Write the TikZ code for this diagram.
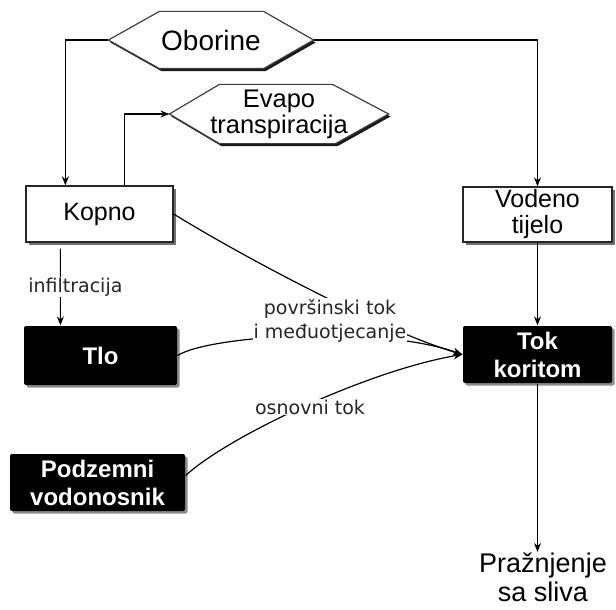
\documentclass[tikz,border=0pt]{standalone}
\usepackage{fontspec}
\setmainfont{Liberation Sans}
\newfontfamily\labfont{DejaVu Sans}
\usetikzlibrary{shadows,arrows.meta,backgrounds}
\begin{document}
\begin{tikzpicture}[x=1pt,y=-1pt,
  line width=1.2pt,
  arr/.style={-{Stealth[length=9pt,width=7pt]}},
  whitebox/.style={draw=black!85, line width=1.3pt, fill=white, inner sep=0pt, align=center,
    drop shadow={shadow xshift=2.5pt,shadow yshift=-2.5pt,fill=black!55,opacity=1},
    font={\fontsize{25}{26}\selectfont}},
  blackbox/.style={fill=black, rounded corners=2pt, text=white, inner sep=0pt, align=center,
    drop shadow={shadow xshift=2.5pt,shadow yshift=-2.5pt,fill=black!45,opacity=1},
    font={\fontsize{24}{28}\selectfont\bfseries}},
  hexbox/.style={inner sep=0pt, align=center},
  hexline/.style={draw=black!75, line width=1.2pt, fill=white,
    drop shadow={shadow xshift=2pt,shadow yshift=-2.5pt,fill=black,opacity=0.9}},
  lab/.style={font={\labfont\fontsize{19}{24}\selectfont}, fill=white, inner sep=1pt, align=center, text=black!85}
]
\useasboundingbox (0,0) rectangle (616,610);

% hexagons
\node[hexbox, minimum width=204pt, minimum height=56pt, font={\fontsize{28}{30}\selectfont}] (ob) at (211,40) {Oborine};
\node[hexbox, minimum width=218pt, minimum height=58pt, font={\fontsize{25.5}{26}\selectfont}] (ev) at (279,114) {Evapo\\transpiracija};
\begin{scope}[on background layer]
\path[hexline] (ob.west) -- ([xshift=51pt]ob.north west) -- ([xshift=-50pt]ob.north east) -- (ob.east)
  -- ([xshift=-50pt]ob.south east) -- ([xshift=51pt]ob.south west) -- cycle;
\path[hexline] (ev.west) -- ([xshift=50pt]ev.north west) -- ([xshift=-56pt]ev.north east) -- (ev.east)
  -- ([xshift=-53pt]ev.south east) -- ([xshift=50pt]ev.south west) -- cycle;
\end{scope}

% boxes
\node[whitebox, minimum width=147pt, minimum height=56pt] (ko) at (99.5,214) {Kopno};
\node[whitebox, minimum width=149pt, minimum height=55pt] (vt) at (537.5,214.5) {Vodeno\\tijelo};
\node[blackbox, minimum width=153pt, minimum height=59pt] (tlo) at (100.5,355.5) {Tlo};
\node[blackbox, minimum width=149pt, minimum height=57pt] (tk) at (537.5,354.5) {Tok\\koritom};
\node[blackbox, minimum width=175pt, minimum height=57pt] (pv) at (97.5,482.5) {Podzemni\\vodonosnik};
\node[inner sep=0pt, align=center, font={\fontsize{27}{29}\selectfont}] (pr) at (543,577) {Pražnjenje\\sa sliva};

% connectors
\draw[arr] (ob.west) -| ([xshift=40pt]ko.north west);
\draw[arr] (ob.east) -| (vt.north);
\draw[arr] ([xshift=99pt]ko.north west) |- (ev.west);
\draw[arr] ([xshift=35pt,yshift=-6pt]ko.south west) -- ([xshift=37pt]tlo.north west)
  node[lab, pos=0.5, xshift=15pt] (inf) {infiltracija};
\draw[arr] (vt.south) -- (tk.north);
\draw[arr] (tk.south) -- (tk.south |- pr.north);

\draw[arr] (ko.east) .. controls (240,255) and (380,330) .. (tk.west);
\draw[arr] (tlo.east) .. controls (210,335) and (380,325) .. (tk.west);
\draw[arr] ([yshift=7pt]pv.east) .. controls (230,435) and (370,370) .. (tk.west);

% labels over the flows
\node[lab] (pt) at (330,321) {površinski tok\\i međuotjecanje};
\node[lab] (os) at (310,407) {osnovni tok};
\end{tikzpicture}
\end{document}
